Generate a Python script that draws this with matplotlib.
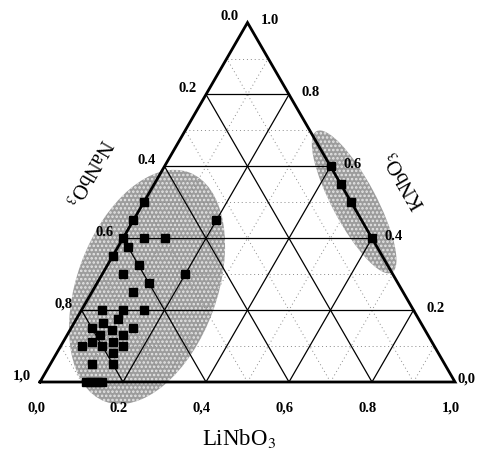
import numpy as np
import matplotlib.pyplot as plt
from matplotlib.patches import Ellipse

# compositions (mole fractions): KNbO3 and LiNbO3, NaNbO3 = 1 - K - Li
na_side_k = [0.50, 0.45, 0.45, 0.40, 0.40, 0.40, 0.375, 0.35, 0.325, 0.30, 0.30,
             0.275, 0.25, 0.20, 0.20, 0.20, 0.175, 0.165, 0.15, 0.15, 0.145, 0.13,
             0.13, 0.11, 0.11, 0.10, 0.10, 0.10, 0.08, 0.05, 0.05,
             0.0, 0.0, 0.0, 0.0, 0.0]
na_side_li = [0.0, 0.0, 0.20, 0.0, 0.05, 0.10, 0.025, 0.0, 0.075, 0.05, 0.20,
              0.125, 0.10, 0.05, 0.10, 0.15, 0.10, 0.07, 0.05, 0.15, 0.10, 0.08,
              0.135, 0.07, 0.12, 0.05, 0.10, 0.15, 0.135, 0.10, 0.15,
              0.11, 0.12, 0.13, 0.14, 0.15]

k_side_k = [0.60, 0.55, 0.50, 0.40]
k_side_li = [0.40, 0.45, 0.50, 0.60]

major = [0.2, 0.4, 0.6, 0.8]
minor = [0.1, 0.3, 0.5, 0.7, 0.9]

ticks = [0.0, 0.2, 0.4, 0.6, 0.8, 1.0]
bottom_labels = ['0,0', '0.2', '0,4', '0,6', '0.8', '1,0']   # LiNbO3
left_labels = ['0.0', '0.2', '0.4', '0.6', '0,8', '1,0']     # NaNbO3
right_labels = ['0,0', '0.2', '0.4', '0.6', '0.8', '1.0']    # KNbO3

H = np.sqrt(3) / 2


def cart(li, k):
    li = np.asarray(li, dtype=float)
    k = np.asarray(k, dtype=float)
    return li + k / 2, k * H


plt.rcParams['font.family'] = ['Liberation Serif', 'DejaVu Serif']
plt.rcParams['mathtext.fontset'] = 'stix'
plt.rcParams['hatch.linewidth'] = 1.2

fig = plt.figure(figsize=(4.79, 4.50), dpi=100)
ax = fig.add_axes([0, 0, 1, 1])
ax.set_xlim(-40 / 415, 439 / 415)
ax.set_ylim(-68 / 415, 382 / 415)
ax.axis('off')

# shaded regions (stippled grey)
for c, w, h, a in [((0.258, 0.229), 0.588, 0.338, 70),
                   ((0.757, 0.434), 0.386, 0.106, -62)]:
    ax.add_patch(Ellipse(c, w, h, angle=a, facecolor='#9c9c9c',
                         edgecolor='#e6e6e6', lw=0, hatch='....', zorder=1))


def gridline(v, **kw):
    x, y = cart([0, 1 - v], [v, v])          # constant KNbO3
    ax.plot(x, y, **kw)
    x, y = cart([v, v], [0, 1 - v])          # constant LiNbO3
    ax.plot(x, y, **kw)
    x, y = cart([1 - v, 0], [0, 1 - v])      # constant NaNbO3
    ax.plot(x, y, **kw)


for v in minor:
    gridline(v, color='#8a8a8a', lw=0.7, ls=(0, (1, 3)), zorder=2)
for v in major:
    gridline(v, color='black', lw=0.9, zorder=2)

# triangle frame
x, y = cart([0, 1, 0, 0], [0, 0, 1, 0])
ax.plot(x, y, color='black', lw=2.0, solid_joinstyle='miter', zorder=3)

# data
x, y = cart(na_side_li, na_side_k)
ax.plot(x, y, 's', color='black', ms=5.2, zorder=4)
x, y = cart(k_side_li, k_side_k)
ax.plot(x, y, 's', color='black', ms=5.2, zorder=4)

tick_font = dict(fontsize=10.5, fontweight='bold', ha='center', va='center')
for t, lab in zip(ticks, bottom_labels):
    x, y = cart(t, 0)
    ax.annotate(lab, (x, y), xytext=(-4, -26), textcoords='offset pixels', **tick_font)
for t, lab in zip(ticks, left_labels):
    x, y = cart(0, 1 - t)
    ax.annotate(lab, (x, y), xytext=(-18, 6), textcoords='offset pixels', **tick_font)
for t, lab in zip(ticks, right_labels):
    x, y = cart(1 - t, t)
    off = (12, 3) if t == 0 else (22, 2)
    ax.annotate(lab, (x, y), xytext=off, textcoords='offset pixels', **tick_font)

ax.text(cart(0.5, 0)[0] - 0.02, -0.135, 'LiNbO$_3$', fontsize=16.5,
        ha='center', va='center')
ax.text((88 - 40) / 415, (382 - 172) / 415, 'NaNbO$_3$', fontsize=15,
        rotation=-120, ha='center', va='center', rotation_mode='anchor')
ax.text((405 - 40) / 415, (382 - 180) / 415, 'KNbO$_3$', fontsize=15,
        rotation=120, ha='center', va='center', rotation_mode='anchor')

fig.savefig('out.png', dpi=100)
